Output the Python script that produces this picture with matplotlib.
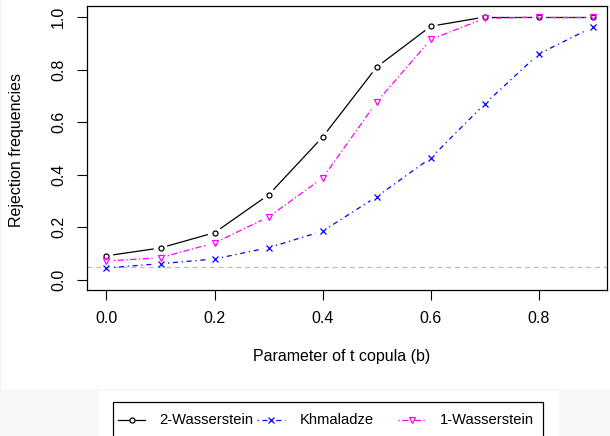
import matplotlib
matplotlib.use("Agg")
import matplotlib.pyplot as plt
import numpy as np
from matplotlib.lines import Line2D
from matplotlib.patches import Rectangle

plt.rcParams["font.family"] = ["Liberation Sans", "DejaVu Sans"]

# copula parameter grid and rejection frequencies per test
b = [0.0, 0.1, 0.2, 0.3, 0.4, 0.5, 0.6, 0.7, 0.8, 0.9]
w2 = [0.092, 0.122, 0.180, 0.324, 0.544, 0.810, 0.965, 1.0, 1.0, 1.0]
khm = [0.046, 0.062, 0.080, 0.123, 0.186, 0.317, 0.464, 0.670, 0.860, 0.962]
w1 = [0.072, 0.085, 0.141, 0.240, 0.388, 0.677, 0.915, 0.995, 1.0, 1.0]
level = 0.05
names = ["2-Wasserstein", "Khmaladze", "1-Wasserstein"]

W, H = 610, 436
FS = 11.5
LEG_FS = 10.6

# colour, line style, marker, marker size for each test
styles = [
    ("black", "-", "o", 3.6),
    ("#0000ff", (0, (1, 3, 4, 3)), "x", 3.8),
    ("#ff00ff", (0, (1, 2, 5, 2)), "v", 4.3),
]


def fx(px):
    return px / W


def fy(py):
    return 1 - py / H


fig = plt.figure(figsize=(W / 100, H / 100), dpi=100, facecolor="#f7f7f7")
# white panels behind the plot and the legend
fig.patches.append(Rectangle((fx(2), fy(389)), fx(608), 389 / H,
                             transform=fig.transFigure, facecolor="white",
                             edgecolor="none", zorder=-10))
fig.patches.append(Rectangle((fx(99), 0), fx(460), 45 / H,
                             transform=fig.transFigure, facecolor="white",
                             edgecolor="none", zorder=-10))

ax = fig.add_axes([fx(87), fy(290), fx(520), 284 / H])
ax.set_xlim(-0.036, 0.926)
ax.set_ylim(-0.038, 1.042)


def type_b(ax, x, y, color, ls, marker, ms, gap=7.5):
    """R-style type='b': points joined by segments that stop short of them."""
    pts = ax.transData.transform(np.column_stack([x, y]))
    inv = ax.transData.inverted()
    for p, q in zip(pts[:-1], pts[1:]):
        d = q - p
        n = np.hypot(*d)
        if n <= 2 * gap:
            continue
        u = d / n
        seg = inv.transform(np.array([p + u * gap, q - u * gap]))
        ax.plot(seg[:, 0], seg[:, 1], color=color, ls=ls, lw=0.9)
    ax.plot(x, y, ls="none", marker=marker, ms=ms, mfc="none", mec=color, mew=0.9)


ax.axhline(level, color="#bebebe", ls=(0, (4, 3)), lw=0.9)
for series, (c, ls, m, ms) in zip([w2, khm, w1], styles):
    type_b(ax, b, series, c, ls, m, ms)

ax.set_xticks([0.0, 0.2, 0.4, 0.6, 0.8])
ax.set_yticks([0.0, 0.2, 0.4, 0.6, 0.8, 1.0])
ax.tick_params(labelsize=FS, length=7, width=0.8, pad=8)
for lab in ax.get_yticklabels():
    lab.set_rotation(90)
    lab.set_va("center")
for s in ax.spines.values():
    s.set_linewidth(0.9)

fig.text(fx(342), fy(356), "Parameter of t copula (b)", fontsize=FS,
         ha="center", va="center")
fig.text(fx(17), fy(150), "Rejection frequencies", fontsize=FS,
         ha="center", va="center", rotation=90)

# legend box along the bottom edge, laid out like R's legend()
fig.patches.append(Rectangle((fx(113), fy(445)), fx(430), 43 / H,
                             transform=fig.transFigure, facecolor="white",
                             edgecolor="black", lw=0.9, zorder=1))
handle_x = [(118, 145), (257, 285), (398, 425)]
text_x = [159, 300, 440]
ly = fy(420)
for (x0, x1), tx, name, (c, ls, m, ms) in zip(handle_x, text_x, names, styles):
    fig.add_artist(Line2D([fx(x0), fx(x1)], [ly, ly], transform=fig.transFigure,
                          color=c, ls=ls, lw=0.9, zorder=2))
    fig.add_artist(Line2D([fx((x0 + x1) / 2)], [ly], transform=fig.transFigure,
                          ls="none", marker=m, ms=ms, mfc="white" if m != "x" else c,
                          mec=c, mew=0.9, zorder=3))
    fig.text(fx(tx), ly, name, fontsize=LEG_FS, ha="left", va="center", zorder=3)

fig.savefig("out.png", dpi=100, facecolor=fig.get_facecolor())
